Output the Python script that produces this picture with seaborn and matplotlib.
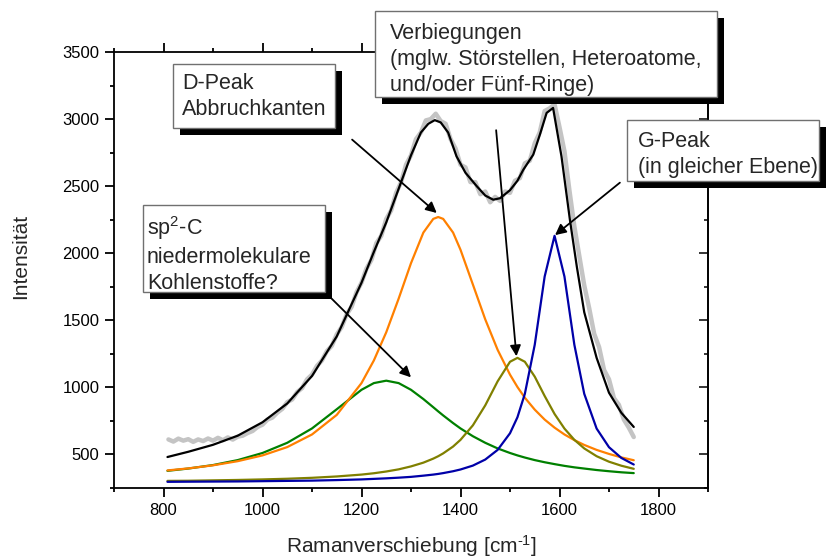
import numpy as np
import pandas as pd
import matplotlib
matplotlib.use("Agg")
import matplotlib.pyplot as plt
from matplotlib.patches import Rectangle
from matplotlib.ticker import MultipleLocator
import seaborn as sns

# ---------------------------------------------------------------- data
# measured Raman spectrum (noisy trace)
meas_x = list(range(810, 1751, 10))
meas_y = [612, 596, 618, 603, 614, 594, 612, 600, 619, 603,
          624, 606, 627, 611, 633, 640, 660, 675, 705, 722,
          760, 775, 812, 840, 890, 910, 965, 995, 1060, 1095,
          1160, 1200, 1270, 1310, 1395, 1450, 1545, 1600, 1710, 1780,
          1885, 1950, 2075, 2130, 2255, 2320, 2450, 2530, 2660, 2730,
          2850, 2900, 2990, 3000, 3040, 2985, 2965, 2850, 2780, 2660,
          2640, 2530, 2530, 2440, 2460, 2380, 2420, 2390, 2460, 2450,
          2540, 2560, 2670, 2690, 2820, 2900, 3060, 3080, 3110, 2940,
          2760, 2470, 2200, 1980, 1760, 1590, 1400, 1300, 1130, 1060,
          920, 870, 760, 700, 630]

# cumulative fit
fit_x = [808, 850, 900, 950, 1000, 1050, 1100, 1150, 1200, 1225,
         1250, 1275, 1300, 1320, 1335, 1348, 1360, 1375, 1392, 1410,
         1433, 1450, 1466, 1480, 1500, 1515, 1527, 1547, 1560, 1574,
         1587, 1604, 1621, 1635, 1650, 1675, 1700, 1725, 1750]
fit_y = [481, 520, 572, 640, 740, 880, 1085, 1380, 1780, 2010,
         2230, 2480, 2730, 2900, 2965, 2992, 2975, 2900, 2722, 2600,
         2499, 2430, 2399, 2410, 2470, 2540, 2623, 2735, 2880, 3046,
         3083, 2722, 2250, 1900, 1560, 1220, 960, 810, 705]

# single band components
band_x = [808, 850, 900, 950, 1000, 1050, 1100, 1150, 1200, 1225,
          1250, 1275, 1300, 1325, 1345, 1355, 1365, 1385, 1400, 1425,
          1450, 1475, 1500, 1515, 1530, 1550, 1570, 1590, 1610, 1630,
          1650, 1675, 1700, 1725, 1750]
d_band = [381, 396, 419, 450, 493, 555, 649, 795, 1032, 1201,
          1411, 1661, 1926, 2154, 2256, 2270, 2256, 2154, 2026, 1767,
          1507, 1280, 1095, 1003, 923, 834, 760, 700, 649, 607,
          571, 534, 504, 478, 457]
sp2_band = [378, 395, 421, 458, 511, 587, 694, 837, 982, 1032,
            1050, 1032, 982, 913, 852, 821, 791, 734, 694, 636,
            587, 545, 511, 493, 477, 458, 442, 428, 415, 404,
            395, 384, 375, 367, 361]
def_band = [303, 304, 307, 310, 314, 319, 326, 336, 350, 360,
            373, 389, 411, 439, 469, 487, 508, 559, 609, 717,
            866, 1045, 1191, 1220, 1191, 1080, 936, 802, 693, 609,
            545, 487, 446, 416, 393]
g_band = [296, 297, 298, 299, 301, 303, 305, 309, 314, 318,
          322, 327, 333, 342, 350, 355, 361, 375, 388, 417,
          462, 534, 658, 777, 952, 1318, 1826, 2130, 1826, 1318,
          952, 693, 554, 474, 425]

x_ticks = [800, 1000, 1200, 1400, 1600, 1800]
y_ticks = [500, 1000, 1500, 2000, 2500, 3000, 3500]

# ---------------------------------------------------------------- style
W, H = 826, 559
sns.set_style("ticks")
plt.rcParams["font.family"] = ["Liberation Sans", "DejaVu Sans"]
plt.rcParams["mathtext.fontset"] = "custom"
plt.rcParams["mathtext.rm"] = "Liberation Sans"
plt.rcParams["mathtext.it"] = "Liberation Sans:italic"
plt.rcParams["mathtext.default"] = "rm"
plt.rcParams["axes.linewidth"] = 1.3

fig = plt.figure(figsize=(W / 100, H / 100), dpi=100)
ax = fig.add_axes([114 / W, 1 - 488 / H, (708 - 114) / W, (488 - 52) / H])


def fx(px):
    return px / W


def fy(py):
    return 1 - py / H


meas = pd.DataFrame({"x": meas_x, "y": meas_y})
fit = pd.DataFrame({"x": fit_x, "y": fit_y})
bands = pd.DataFrame({"x": band_x, "D": d_band, "sp2": sp2_band,
                      "def": def_band, "G": g_band})

sns.lineplot(data=meas, x="x", y="y", ax=ax, color="#c4c4c4", lw=3.2,
             sort=False, estimator=None, zorder=2)
for col, colour in [("sp2", "#008000"), ("D", "#ff8000"),
                    ("def", "#808000"), ("G", "#0000a8")]:
    sns.lineplot(data=bands, x="x", y=col, ax=ax, color=colour, lw=1.6,
                 sort=False, estimator=None, zorder=3)
sns.lineplot(data=fit, x="x", y="y", ax=ax, color="black", lw=1.6,
             sort=False, estimator=None, zorder=4)

ax.set_xlim(700, 1900)
ax.set_ylim(250, 3500)
ax.set_xticks(x_ticks)
ax.set_yticks(y_ticks)
ax.xaxis.set_minor_locator(MultipleLocator(100))
ax.yaxis.set_minor_locator(MultipleLocator(250))
ax.tick_params(which="both", direction="out", top=True, right=False,
               color="black", width=1.3, labelsize=12, labelcolor="black")
ax.tick_params(which="major", length=6.5, pad=4)
ax.tick_params(which="minor", length=3.2)
for s in ax.spines.values():
    s.set_visible(True)
    s.set_color("black")

sec = ax.secondary_yaxis("right")
sec.set_yticks(y_ticks)
sec.yaxis.set_minor_locator(MultipleLocator(250))
sec.tick_params(which="both", direction="in", labelright=False, width=1.3)
sec.tick_params(which="major", length=6.5)
sec.tick_params(which="minor", length=3.2)
sec.spines["right"].set_linewidth(1.3)

ax.set_xlabel("")
ax.set_ylabel("")
fig.text(fx(411), fy(546), r"Ramanverschiebung [cm$^{\text{-1}}$]",
         ha="center", va="center", fontsize=15)
fig.text(fx(21), fy(256), "Intensität", ha="center", va="center",
         rotation=90, fontsize=15)

# ---------------------------------------------------------------- notes
ARROW = dict(arrowstyle="-|>", color="black", lw=1.3, mutation_scale=16,
             shrinkA=0, shrinkB=0)
ax.annotate("", xy=(1352, 2300), xytext=(1181, 2847), arrowprops=ARROW,
            annotation_clip=False, zorder=6)
ax.annotate("", xy=(1300, 1075), xytext=(1136, 1675), arrowprops=ARROW,
            annotation_clip=False, zorder=6)
ax.annotate("", xy=(1513, 1232), xytext=(1472, 2917), arrowprops=ARROW,
            annotation_clip=False, zorder=6)
ax.annotate("", xy=(1591, 2135), xytext=(1722, 2526), arrowprops=ARROW,
            annotation_clip=False, zorder=6)


def note(x0, y0, x1, y1, tx, ty, text):
    fig.patches.append(Rectangle((fx(x0 + 7), fy(y1 + 7)), (x1 - x0) / W,
                                 (y1 - y0) / H, transform=fig.transFigure,
                                 facecolor="black", edgecolor="none",
                                 zorder=7))
    fig.patches.append(Rectangle((fx(x0), fy(y1)), (x1 - x0) / W,
                                 (y1 - y0) / H, transform=fig.transFigure,
                                 facecolor="white", edgecolor="#707070",
                                 lw=1.0, zorder=8))
    fig.text(fx(tx), fy(ty), text, ha="left", va="top", fontsize=15.5,
             linespacing=1.3, zorder=9)


note(375, 11, 717, 97, 390, 23,
     "Verbiegungen\n(mglw. Störstellen, Heteroatome,\nund/oder Fünf-Ringe)")
note(173, 64, 335, 128, 182, 73, "D-Peak\nAbbruchkanten")
note(143, 205, 325, 292, 147, 214,
     "sp$^{2}$-C\nniedermolekulare\nKohlenstoffe?")
note(627, 120, 819, 181, 638, 131, "G-Peak\n(in gleicher Ebene)")

fig.savefig("out.png", dpi=100)
